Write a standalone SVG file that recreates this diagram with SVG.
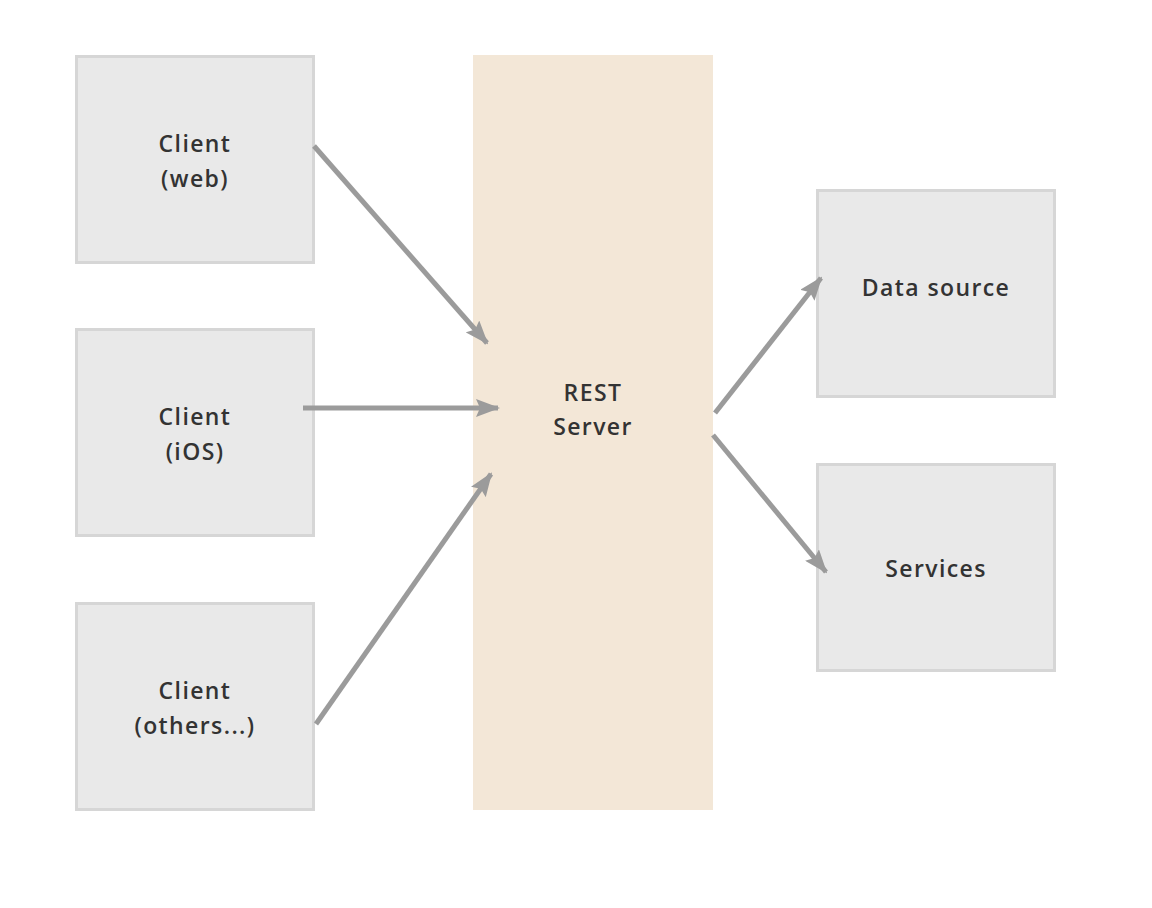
<svg xmlns="http://www.w3.org/2000/svg" width="1152" height="908" viewBox="0 0 1152 908">
<style>
.box{fill:#e9e9e9;stroke:#d6d6d6;stroke-width:3}
.srv{fill:#f3e7d7}
.t{font-family:"Open Sans",Lato,sans-serif;font-weight:600;font-size:23px;letter-spacing:1.4px;fill:#333;text-anchor:middle}
.c{stroke:#9b9b9b;stroke-width:5;fill:none;marker-end:url(#ah)}
</style>
<defs>
<marker id="ah" markerUnits="userSpaceOnUse" markerWidth="24" markerHeight="18" refX="22" refY="9" orient="auto" viewBox="0 0 24 18">
<path d="M0,0 L24,9 L0,18 L4,9 Z" fill="#9b9b9b"/>
</marker>
</defs>
<rect width="1152" height="908" fill="#fff"/>
<g id="server"><rect class="srv" x="473" y="55" width="240" height="755"/><text class="t" x="593" y="401">REST</text><text class="t" x="593" y="435">Server</text></g>
<g id="client-web"><rect class="box" x="76.5" y="56.5" width="237" height="206"/><text class="t" x="195" y="152">Client</text><text class="t" x="195" y="187">(web)</text></g>
<g id="client-ios"><rect class="box" x="76.5" y="329.5" width="237" height="206"/><text class="t" x="195" y="425">Client</text><text class="t" x="195" y="460">(iOS)</text></g>
<g id="client-others"><rect class="box" x="76.5" y="603.5" width="237" height="206"/><text class="t" x="195" y="699">Client</text><text class="t" x="195" y="734">(others...)</text></g>
<g id="data-source"><rect class="box" x="817.5" y="190.5" width="237" height="206"/><text class="t" x="936" y="296">Data source</text></g>
<g id="services"><rect class="box" x="817.5" y="464.5" width="237" height="206"/><text class="t" x="936" y="577">Services</text></g>
<g id="connectors">
<line class="c" x1="314" y1="146" x2="487" y2="343"/>
<line class="c" x1="303" y1="408" x2="498" y2="408"/>
<line class="c" x1="316" y1="724" x2="491" y2="474"/>
<line class="c" x1="715" y1="413" x2="821" y2="278"/>
<line class="c" x1="713" y1="435" x2="826" y2="572"/>
</g>
</svg>
